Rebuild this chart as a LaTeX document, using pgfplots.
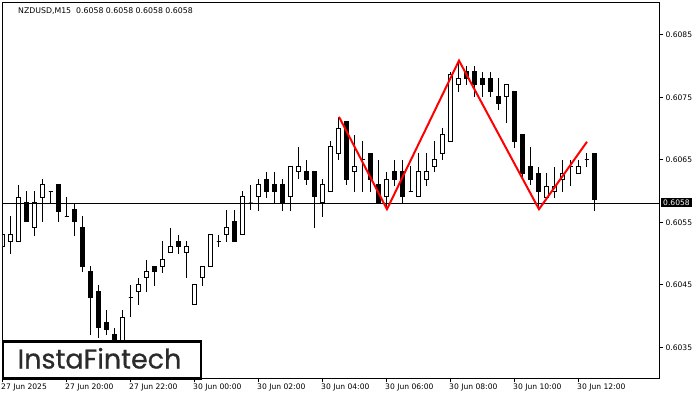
\documentclass[border=0pt]{standalone}
\usepackage{fontspec}
\setmainfont{DejaVu Sans}
\newfontfamily\logofont[FakeBold=0.6]{Poppins}
\usepackage{pgfplots}
\usepackage{pgfplotstable}
\pgfplotsset{compat=1.18}
\definecolor{logogray}{HTML}{2B2B2B}
\pgfplotstableread{
i o h l c
0 0.60511 0.60551 0.60471 0.60530
1 0.60520 0.60560 0.60499 0.60530
2 0.60520 0.60610 0.60520 0.60589
3 0.60581 0.60600 0.60551 0.60551
4 0.60541 0.60600 0.60528 0.60581
5 0.60589 0.60619 0.60551 0.60610
6 0.60600 0.60600 0.60581 0.60600
7 0.60610 0.60610 0.60551 0.60568
8 0.60560 0.60591 0.60560 0.60560
9 0.60570 0.60581 0.60528 0.60551
10 0.60541 0.60560 0.60471 0.60479
11 0.60471 0.60480 0.60370 0.60429
12 0.60440 0.60450 0.60365 0.60381
13 0.60390 0.60410 0.60370 0.60379
14 0.60370 0.60381 0.60352 0.60362
15 0.60352 0.60410 0.60346 0.60398
16 0.60430 0.60450 0.60398 0.60430
17 0.60440 0.60461 0.60418 0.60450
18 0.60461 0.60490 0.60439 0.60471
19 0.60480 0.60480 0.60448 0.60471
20 0.60480 0.60520 0.60469 0.60490
21 0.60501 0.60541 0.60501 0.60511
22 0.60520 0.60530 0.60499 0.60511
23 0.60501 0.60520 0.60461 0.60511
24 0.60419 0.60450 0.60419 0.60450
25 0.60461 0.60480 0.60448 0.60480
26 0.60480 0.60530 0.60480 0.60530
27 0.60520 0.60530 0.60511 0.60520
28 0.60530 0.60570 0.60519 0.60541
29 0.60551 0.60570 0.60520 0.60520
30 0.60530 0.60600 0.60530 0.60591
31 0.60581 0.60610 0.60570 0.60581
32 0.60591 0.60619 0.60568 0.60610
33 0.60619 0.60631 0.60589 0.60599
34 0.60610 0.60631 0.60579 0.60599
35 0.60610 0.60619 0.60568 0.60581
36 0.60591 0.60640 0.60568 0.60640
37 0.60631 0.60671 0.60619 0.60640
38 0.60631 0.60650 0.60610 0.60619
39 0.60631 0.60631 0.60541 0.60591
40 0.60581 0.60619 0.60559 0.60610
41 0.60599 0.60680 0.60599 0.60671
42 0.60661 0.60719 0.60650 0.60701
43 0.60711 0.60711 0.60610 0.60619
44 0.60631 0.60690 0.60599 0.60640
45 0.60650 0.60680 0.60599 0.60650
46 0.60661 0.60661 0.60599 0.60619
47 0.60610 0.60650 0.60581 0.60581
48 0.60591 0.60631 0.60570 0.60619
49 0.60631 0.60650 0.60608 0.60619
50 0.60631 0.60650 0.60581 0.60591
51 0.60600 0.60640 0.60600 0.60600
52 0.60591 0.60661 0.60591 0.60631
53 0.60619 0.60661 0.60608 0.60631
54 0.60640 0.60680 0.60631 0.60650
55 0.60661 0.60701 0.60650 0.60690
56 0.60680 0.60791 0.60680 0.60786
57 0.60770 0.60808 0.60759 0.60781
58 0.60791 0.60800 0.60770 0.60781
59 0.60791 0.60800 0.60751 0.60770
60 0.60781 0.60791 0.60751 0.60770
61 0.60781 0.60791 0.60751 0.60759
62 0.60751 0.60781 0.60730 0.60741
63 0.60751 0.60770 0.60709 0.60770
64 0.60760 0.60760 0.60669 0.60679
65 0.60690 0.60690 0.60618 0.60629
66 0.60639 0.60671 0.60610 0.60619
67 0.60629 0.60639 0.60570 0.60599
68 0.60589 0.60629 0.60589 0.60608
69 0.60599 0.60639 0.60589 0.60608
70 0.60619 0.60650 0.60599 0.60629
71 0.60639 0.60650 0.60608 0.60639
72 0.60629 0.60650 0.60629 0.60639
73 0.60650 0.60661 0.60639 0.60650
74 0.60661 0.60661 0.60568 0.60586
}\candles
\pgfplotstableread{
x y
42 0.60719
48 0.60571
57 0.60809
67 0.60571
73 0.60679
}\pattern
\begin{document}
\begin{tikzpicture}
\path[use as bounding box] (0,0) rectangle (700bp,400bp);
\begin{axis}[
  at={(3bp,21.7bp)}, anchor=south west, scale only axis,
  width=656.3bp, height=375.6bp,
  xmin=0, xmax=82.04, ymin=0.603003, ymax=0.609017,
  axis line style={black, line width=1bp},
  xtick={0,8,16,24,32,40,48,56,64,72},
  xticklabels={27 Jun 2025, 27 Jun 20:00, 27 Jun 22:00, 30 Jun 00:00, 30 Jun 02:00, 30 Jun 04:00, 30 Jun 06:00, 30 Jun 08:00, 30 Jun 10:00, 30 Jun 12:00},
  ytick={0.6035,0.6045,0.6055,0.6065,0.6075,0.6085},
  yticklabels={0.6035,0.6045,0.6055,0.6065,0.6075,0.6085},
  xtick pos=bottom, ytick pos=right,
  tick align=outside, major tick length=4bp,
  tick style={black, line width=1bp},
  xticklabel style={anchor=north west, xshift=-2bp, yshift=-1.5bp, inner sep=0pt, font=\fontsize{7.6bp}{9bp}\selectfont},
  yticklabel style={anchor=west, xshift=2bp, inner sep=0pt, font=\fontsize{7.6bp}{9bp}\selectfont},
  clip=true,
]
\pgfplotsforeachungrouped \i in {0,...,74}{%
  \pgfplotstablegetelem{\i}{o}\of\candles \let\vo\pgfplotsretval
  \pgfplotstablegetelem{\i}{h}\of\candles \let\vh\pgfplotsretval
  \pgfplotstablegetelem{\i}{l}\of\candles \let\vl\pgfplotsretval
  \pgfplotstablegetelem{\i}{c}\of\candles \let\vc\pgfplotsretval
  \pgfmathsetmacro\xa{\i-0.25}%
  \pgfmathsetmacro\xb{\i+0.25}%
  \ifdim\vc pt>\vo pt \def\bodyfill{white}\else\def\bodyfill{black}\fi
  \edef\temp{%
    \noexpand\addplot[black, line width=1bp, forget plot] coordinates {(\i,\vl) (\i,\vh)};
    \noexpand\addplot[draw=black, fill=\bodyfill, line width=1bp, forget plot] coordinates {(\xa,\vo) (\xb,\vo) (\xb,\vc) (\xa,\vc)} -- cycle;
  }\temp
}
\addplot[black, line width=1bp, forget plot] coordinates {(0,0.6058) (82.04,0.6058)};
\addplot[red, line width=2bp, line join=miter, forget plot] table[x=x, y=y] {\pattern};
\end{axis}
\node[anchor=west, inner sep=0pt, font=\fontsize{7.8bp}{9bp}\selectfont] at (18bp,389.3bp) {NZDUSD,M15\hspace{5bp}0.6058 0.6058 0.6058 0.6058};
\node[anchor=west, fill=black, text=white, inner xsep=2bp, inner ysep=1.5bp, font=\fontsize{7.6bp}{9bp}\selectfont] at (661bp,197.2bp) {0.6058};
\draw[black, line width=2.5bp, fill=white] (3bp,21.7bp) rectangle (201bp,58.3bp);
\node[anchor=base, inner sep=0pt, text=logogray, font=\logofont\fontsize{27bp}{28bp}\selectfont] at (99.5bp,31.5bp) {InstaFintech};
\end{tikzpicture}
\end{document}
